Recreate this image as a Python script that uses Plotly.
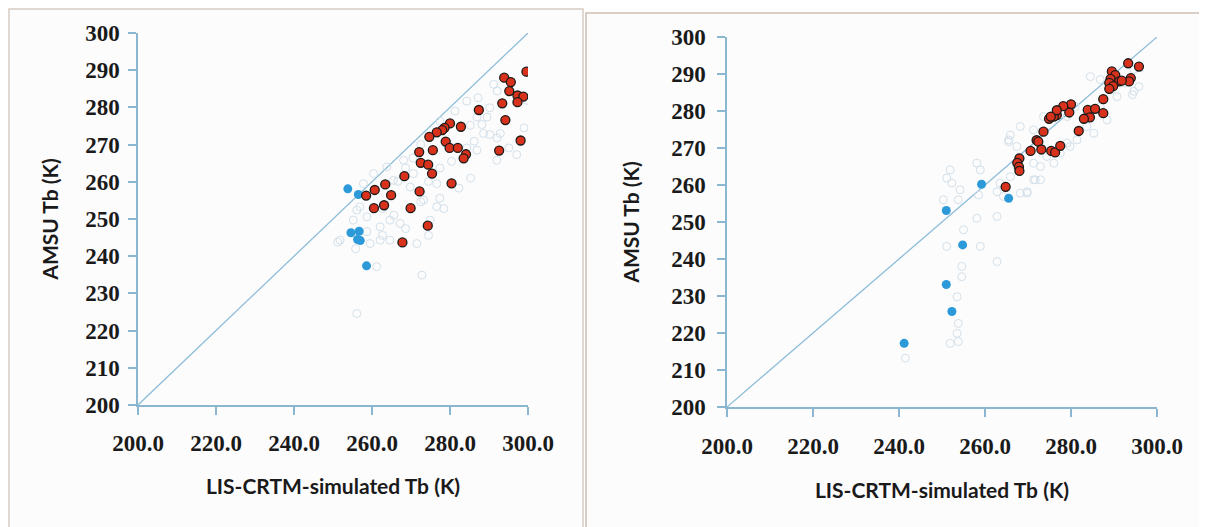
import plotly.graph_objects as go

# ---------------- Left panel data ----------------
L_red_x = [299.6, 293.9, 295.6, 295.2, 297.3, 298.8, 297.3, 293.4, 287.4, 294.2,
           298.1, 292.6, 280.0, 282.8, 278.6, 278.0, 276.6, 274.7, 278.9, 279.9,
           282.0, 275.6, 272.1, 284.1, 283.5, 272.5, 274.4, 275.4, 268.3, 280.4,
           263.4, 260.7, 272.2, 258.5, 264.9, 263.1, 260.5, 269.9, 274.3, 267.8]
L_red_y = [289.6, 288.0, 286.8, 284.4, 283.2, 282.9, 281.4, 281.1, 279.3, 276.6,
           271.1, 268.4, 275.7, 274.8, 274.5, 273.9, 273.3, 272.1, 270.8, 269.1,
           269.1, 268.5, 268.0, 267.4, 266.3, 265.1, 264.6, 262.2, 261.5, 259.6,
           259.3, 257.8, 257.4, 256.3, 256.4, 253.7, 252.9, 252.9, 248.2, 243.7]

L_blue_x = [253.8, 256.5, 254.6, 256.7, 256.3, 257.0, 258.6]
L_blue_y = [258.1, 256.6, 246.3, 246.7, 244.5, 244.2, 237.4]

L_grey_x = [286.9, 289.5, 285.2, 288.6, 292.9, 292.0, 286.9, 299.7, 260.4, 257.8,
            263.8, 268.1, 269.8, 273.2, 256.1, 258.7, 264.6, 262.1, 267.2, 251.8,
            259.5, 264.6, 271.5, 261.2, 272.8, 256.1, 256.9, 255.2, 262.1, 258.7,
            274.9, 276.6, 276.6, 270.6, 265.5, 277.4, 281.3, 284.3, 287.2, 290.2,
            288.2, 286.2, 284.3, 285.3, 282.3, 290.2, 292.1, 295.1, 297.1, 299.0,
            291.2, 292.1, 272.5, 270.5, 268.6, 266.6, 274.5, 277.4, 280.4, 262.7,
            265.6, 277.4, 272.5, 278.4, 262.7, 268.6, 274.5, 255.8, 251.2]
L_grey_y = [277.4, 277.4, 275.2, 273.0, 273.0, 265.8, 268.5, 281.9, 262.2, 259.5,
            264.0, 265.8, 258.6, 255.1, 252.4, 250.6, 249.7, 247.9, 248.8, 244.3,
            243.4, 244.3, 243.4, 237.2, 234.9, 224.6, 253.3, 249.7, 244.3, 246.6,
            249.7, 259.5, 253.3, 262.2, 260.4, 276.3, 279.0, 281.7, 282.6, 279.9,
            275.4, 270.9, 269.1, 261.0, 258.3, 272.7, 271.8, 269.1, 267.3, 274.5,
            286.2, 284.4, 270.0, 266.4, 263.7, 260.1, 260.1, 263.7, 265.5, 252.8,
            251.0, 255.6, 254.6, 252.8, 245.6, 247.4, 245.6, 242.0, 243.8]

# ---------------- Right panel data ----------------
R_red_x = [293.3, 295.8, 289.5, 290.3, 289.2, 291.2, 293.9, 293.5, 288.9, 289.8,
           288.9, 291.8, 287.5, 287.5, 283.9, 285.6, 284.4, 283.0, 281.8, 280.0,
           279.6, 278.2, 276.7, 276.0, 274.9, 276.7, 275.3, 273.6, 272.0, 272.4,
           273.1, 270.6, 275.4, 276.3, 277.5, 268.0, 267.5, 267.9, 268.0, 264.8]
R_red_y = [292.9, 292.0, 290.7, 289.7, 288.7, 288.0, 288.9, 288.0, 287.6, 286.7,
           286.0, 288.2, 283.2, 279.4, 280.3, 280.6, 278.3, 277.9, 274.6, 281.8,
           279.6, 281.3, 278.9, 278.5, 277.9, 280.2, 278.5, 274.4, 272.1, 271.7,
           269.6, 269.2, 269.2, 268.8, 270.6, 267.2, 266.0, 264.9, 263.8, 259.5]

R_blue_x = [259.2, 265.5, 251.0, 254.8, 251.0, 252.3, 241.2]
R_blue_y = [260.2, 256.4, 253.1, 243.8, 233.1, 225.8, 217.2]

R_grey_x = [251.9, 251.1, 252.3, 254.2, 250.3, 253.8, 258.9, 258.5, 262.8, 258.1,
            255.0, 251.1, 258.9, 262.8, 254.6, 254.6, 253.5, 253.8, 253.5, 251.9,
            253.8, 262.8, 269.8, 271.7, 258.1, 241.5, 284.5, 286.8, 294.6, 289.2,
            279.1, 281.0, 286.8, 288.4, 281.4, 279.1, 273.6, 271.3, 268.2, 265.5,
            267.4, 271.3, 272.9, 274.4, 276.0, 271.3, 272.9, 269.8, 268.2, 264.3,
            277.5, 279.8, 283.7, 285.3, 290.7, 292.3, 294.6, 295.8, 267.4, 265.9,
            263.5, 265.9, 265.5, 294.3]
R_grey_y = [264.1, 261.9, 260.5, 258.7, 256.0, 256.0, 264.1, 257.3, 251.5, 251.0,
            247.9, 243.4, 243.4, 239.3, 238.0, 235.2, 229.8, 222.6, 219.9, 217.2,
            217.7, 258.2, 258.2, 261.4, 265.9, 213.2, 289.3, 288.5, 285.3, 285.7,
            278.5, 281.2, 281.2, 277.6, 272.2, 271.3, 278.5, 274.9, 275.8, 272.2,
            270.4, 265.9, 265.0, 267.7, 265.9, 261.4, 261.4, 257.8, 257.8, 256.9,
            268.6, 270.4, 275.8, 274.0, 283.9, 287.6, 291.2, 286.6, 265.0, 262.3,
            260.5, 273.5, 271.7, 284.4]

one_to_one = [200, 300]
x_ticks = [200, 220, 240, 260, 280, 300]
x_ticktext = ["200.0", "220.0", "240.0", "260.0", "280.0", "300.0"]
y_ticks = [200, 210, 220, 230, 240, 250, 260, 270, 280, 290, 300]

x_title = "LIS-CRTM-simulated Tb (K)"
y_title = "AMSU Tb (K)"

RED = "#d8321c"
BLUE = "#2c9ad8"
GREY = "#d3e0e9"
AXC = "#8ab6d0"
OFF = 8                      # page offset of the plot div (browser body margin)
W, H = 1207 - OFF, 527 - OFF


def px(x):
    return (x - OFF) / W


def py(y):
    return 1 - (y - OFF) / H


fig = go.Figure()


def add_panel(xa, ya, rx, ry, bx, by, gx, gy):
    fig.add_trace(go.Scatter(x=one_to_one, y=one_to_one, mode="lines",
                             line=dict(color="#8dbdd8", width=1.3),
                             xaxis=xa, yaxis=ya, showlegend=False, hoverinfo="skip"))
    fig.add_trace(go.Scatter(x=gx, y=gy, mode="markers",
                             marker=dict(symbol="circle-open", size=8, color=GREY,
                                         line=dict(width=1)),
                             xaxis=xa, yaxis=ya, showlegend=False))
    fig.add_trace(go.Scatter(x=bx, y=by, mode="markers",
                             marker=dict(size=9, color=BLUE, line=dict(width=0)),
                             xaxis=xa, yaxis=ya, showlegend=False))
    fig.add_trace(go.Scatter(x=rx, y=ry, mode="markers",
                             marker=dict(size=9, color=RED,
                                         line=dict(color="#1a1a1a", width=1.3)),
                             xaxis=xa, yaxis=ya, showlegend=False))


add_panel("x", "y", L_red_x, L_red_y, L_blue_x, L_blue_y, L_grey_x, L_grey_y)
add_panel("x2", "y2", R_red_x, R_red_y, R_blue_x, R_blue_y, R_grey_x, R_grey_y)

tickfont = dict(family="Liberation Serif", size=23, color="#1a1a1a", weight="bold")
titlefont = dict(family="Lato", size=21, color="#1a1a1a", weight="bold")


def xaxis_cfg(domain, anchor, lab_standoff, title_standoff):
    return dict(domain=domain, anchor=anchor, range=[200, 300],
                tickvals=x_ticks, ticktext=x_ticktext, automargin=False,
                showgrid=False, zeroline=False, showline=True, linecolor=AXC,
                linewidth=1.5, ticks="outside", ticklen=8, tickcolor=AXC,
                tickwidth=1.5, tickfont=tickfont, ticklabelstandoff=lab_standoff,
                title=dict(text=x_title, font=titlefont, standoff=title_standoff))


def yaxis_cfg(domain, anchor, lab_standoff, title_standoff):
    return dict(domain=domain, anchor=anchor, range=[200, 300],
                tickvals=y_ticks, automargin=False,
                showgrid=False, zeroline=False, showline=True, linecolor=AXC,
                linewidth=1.5, ticks="outside", ticklen=8, tickcolor=AXC,
                tickwidth=1.5, tickfont=tickfont, ticklabelstandoff=lab_standoff,
                title=dict(text=y_title, font=titlefont, standoff=title_standoff))


fig.update_layout(
    width=W, height=H,
    margin=dict(l=0, r=0, t=0, b=0),
    paper_bgcolor="white",
    plot_bgcolor="rgba(0,0,0,0)",
    xaxis=xaxis_cfg([px(138), px(528)], "y", 9, 24),
    yaxis=yaxis_cfg([py(405), py(33)], "x", 4, 21),
    xaxis2=xaxis_cfg([px(727), px(1157)], "y2", 10, 25),
    yaxis2=yaxis_cfg([py(407), py(37)], "x2", 7, 26),
    shapes=[
        dict(type="rect", xref="paper", yref="paper", layer="below",
             x0=px(9), x1=px(583), y0=-0.02, y1=py(9),
             line=dict(color="#d6cbc2", width=1.5), fillcolor="#fcfcfd"),
        dict(type="rect", xref="paper", yref="paper", layer="below",
             x0=px(586), x1=1.02, y0=-0.02, y1=py(13),
             line=dict(color="#cdbfb3", width=1.5), fillcolor="#fcfcfd"),
    ],
)

fig.write_html("out.html")
